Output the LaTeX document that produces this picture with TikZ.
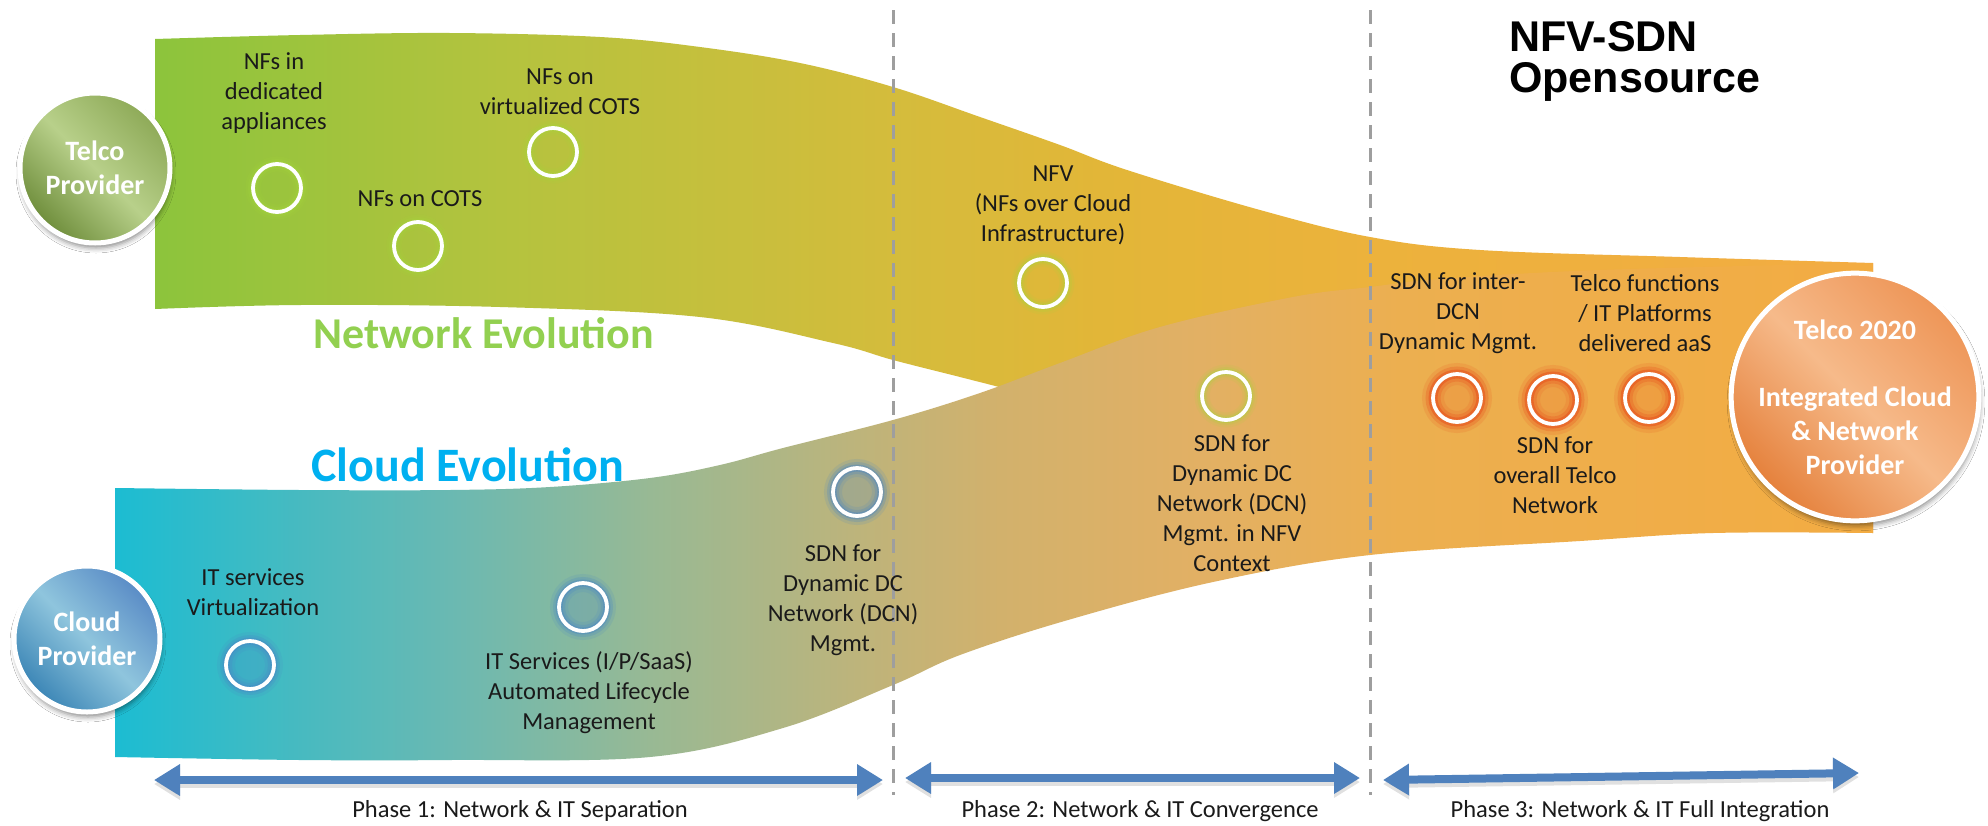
\documentclass[tikz,border=0pt]{standalone}
\usepackage{fontspec}
\setmainfont{Carlito}
\newfontfamily\headfont{Liberation Sans}
\usetikzlibrary{arrows.meta,shadows.blur}

% palette
\definecolor{txt}{HTML}{1A1A1A}
\definecolor{netA}{HTML}{8CC43C}
\definecolor{netB}{HTML}{B4C33E}
\definecolor{netC}{HTML}{D4BC3C}
\definecolor{netD}{HTML}{E2B638}
\definecolor{netE}{HTML}{ECB23C}
\definecolor{netF}{HTML}{F3AC42}
\definecolor{cldA}{HTML}{1CBCD2}
\definecolor{cldB}{HTML}{6AB9B2}
\definecolor{cldC}{HTML}{98B994}
\definecolor{cldD}{HTML}{BCB47C}
\definecolor{cldE}{HTML}{D2B16C}
\definecolor{cldF}{HTML}{E2B064}
\definecolor{cldG}{HTML}{ECAF50}
\definecolor{cldH}{HTML}{F3AC42}
\definecolor{netgreen}{HTML}{92D050}
\definecolor{cldblue}{HTML}{00B0F0}
\definecolor{glowg}{HTML}{A6D63C}
\definecolor{glowb}{HTML}{4A86C5}
\definecolor{glowo}{HTML}{E8501E}
\definecolor{arrowblue}{HTML}{4F81BD}
\definecolor{sepgray}{HTML}{9E9E9E}
\definecolor{telTop}{HTML}{8EAA58}
\definecolor{telMid}{HTML}{B8D08A}
\definecolor{telBot}{HTML}{6F8E3C}
\definecolor{cloTop}{HTML}{5A8CC6}
\definecolor{cloMid}{HTML}{8FC5DD}
\definecolor{cloBot}{HTML}{3C86B6}
\definecolor{orTop}{HTML}{EE9658}
\definecolor{orMid}{HTML}{F6BA8A}
\definecolor{orBot}{HTML}{E5813C}

% band fills (the path box spans 25bp..75bp)
\pgfdeclarehorizontalshading{netshade}{100bp}{color(0bp)=(netA); color(25bp)=(netA); color(35.04bp)=(netB); color(46.48bp)=(netC); color(52.5bp)=(netD); color(60.36bp)=(netE); color(75bp)=(netF); color(100bp)=(netF)}
\pgfdeclarehorizontalshading{cldshade}{100bp}{color(0bp)=(cldA); color(25bp)=(cldA); color(34.53bp)=(cldB); color(40.22bp)=(cldC); color(45.9bp)=(cldD); color(50.17bp)=(cldE); color(55.86bp)=(cldF); color(61.55bp)=(cldG); color(75bp)=(cldH); color(100bp)=(cldH)}

\begin{document}
\begin{tikzpicture}[x=1pt,y=-1pt,
  lbl/.style={font=\fontsize{24.5pt}{30pt}\selectfont, text=txt, align=center, inner sep=0pt},
  bandtitle/.style={font=\bfseries\fontsize{44pt}{50pt}\selectfont, inner sep=0pt},
  provider/.style={circle, inner sep=0pt, draw=white, line width=5pt, text=white, align=center,
    font=\bfseries\fontsize{28pt}{34pt}\selectfont,
    blur shadow={shadow xshift=1pt, shadow yshift=-5pt, shadow blur radius=5pt, shadow opacity=45}},
  ring/.style={circle, inner sep=0pt, minimum size=48pt, draw=white, line width=3.8pt},
  glowG/.style={preaction={draw=glowg, line width=15pt, opacity=0.12},
                preaction={draw=glowg, line width=10pt, opacity=0.2},
                preaction={draw=glowg, line width=6pt, opacity=0.35}},
  glowB/.style={preaction={fill=glowb, opacity=0.22},
                preaction={draw=glowb, line width=18pt, opacity=0.15},
                preaction={draw=glowb, line width=12pt, opacity=0.25},
                preaction={draw=glowb, line width=7pt, opacity=0.4}},
  glowO/.style={preaction={fill=glowo, opacity=0.15},
                preaction={draw=glowo, line width=22pt, opacity=0.15},
                preaction={draw=glowo, line width=15pt, opacity=0.28},
                preaction={draw=glowo, line width=9pt, opacity=0.5}},
  sep/.style={draw=sepgray, line width=3pt, dash pattern=on 14pt off 9pt},
  phase/.style={draw=arrowblue, line width=8pt,
    arrows={Triangle[length=26pt,width=30pt]-Triangle[length=26pt,width=30pt]}},
  phaseshadow/.style={draw=black, opacity=0.12, line width=8pt,
    arrows={Triangle[length=26pt,width=30pt]-Triangle[length=26pt,width=30pt]}},
  phaselbl/.style={font=\fontsize{24.5pt}{30pt}\selectfont, text=txt, inner sep=0pt}
]
\useasboundingbox (0,0) rectangle (1988,825);
\fill[white] (0,0) rectangle (1988,825);

% network evolution band
\shade[shading=netshade]
  plot[smooth,tension=0.6] coordinates {(155,39) (300,35) (450,33) (600,37) (700,47) (800,63) (893,87) (980,117) (1060,145) (1127,170) (1260,210) (1370,237) (1480,250) (1680,257) (1873,263)}
  -- plot[smooth,tension=0.6] coordinates {(1873,533) (1600,520) (1400,490) (1200,450) (1080,412) (1017,392) (960,377) (893,360) (833,343) (700,317) (500,307) (300,305) (155,309)}
  -- cycle;

% cloud evolution band
\shade[shading=cldshade]
  plot[smooth,tension=0.6] coordinates {(115,488) (300,490) (450,490) (550,487) (650,478) (720,465) (783,448) (893,420) (980,393) (1060,363) (1160,327) (1293,297) (1370,287) (1440,279) (1600,270) (1873,263)}
  -- plot[smooth,tension=0.6] coordinates {(1873,533) (1713,533) (1580,541) (1370,555) (1213,582) (1068,620) (960,655) (893,685) (783,728) (650,757) (450,760) (300,760) (115,757)}
  -- cycle;

% phase separators
\coordinate (s1t) at (893,10);  \coordinate (s1b) at (893,795);
\coordinate (s2t) at (1370,10); \coordinate (s2b) at (1370,795);
\draw[sep] (s1t) -- (s1b);
\draw[sep] (s2t) -- (s2b);

% band titles
\node[bandtitle, text=netgreen, anchor=west] (nettitle) at (313,333) {Network Evolution};
\node[bandtitle, font=\bfseries\fontsize{48pt}{54pt}\selectfont, text=cldblue, anchor=west] (cldtitle) at (311,465) {Cloud Evolution};

% heading
\node[font=\headfont\bfseries\fontsize{43pt}{41pt}\selectfont, align=left, anchor=west, inner sep=0pt]
  (head) at (1509,61) {NFV-SDN\\Opensource};

% providers
\node[provider, minimum size=150pt, top color=telTop, bottom color=telBot, middle color=telMid, shading angle=-45]
  (telco) at (95,168) {Telco\\Provider};
\node[provider, minimum size=146pt, top color=cloTop, bottom color=cloBot, middle color=cloMid, shading angle=-45]
  (cloud) at (87,639) {Cloud\\Provider};
\node[provider, minimum size=244pt, top color=orTop, bottom color=orBot, middle color=orMid, shading angle=-45]
  (telco2020) at (1855,397) {Telco 2020\\[33pt]Integrated Cloud\\\& Network\\Provider};

% milestones
\node[ring, glowG] (m1)  at (277,188)  {};
\node[ring, glowG] (m2)  at (418,246)  {};
\node[ring, glowG] (m3)  at (553,152)  {};
\node[ring, glowG] (m4)  at (1043,283) {};
\node[ring, glowB] (m5)  at (250,665)  {};
\node[ring, glowB] (m6)  at (583,607)  {};
\node[ring, glowB] (m7)  at (857,492)  {};
\node[ring, glowG] (m8)  at (1226,396) {};
\node[ring, glowO] (m9)  at (1457,398) {};
\node[ring, glowO] (m10) at (1553,400) {};
\node[ring, glowO] (m11) at (1649,398) {};

% milestone texts
\node[lbl] (t1)  at (274,93)   {NFs in\\dedicated\\appliances};
\node[lbl] (t2)  at (420,199)  {NFs on COTS};
\node[lbl] (t3)  at (560,92)   {NFs on\\virtualized COTS};
\node[lbl] (t4)  at (1053,205) {NFV\\(NFs over Cloud\\Infrastructure)};
\node[lbl] (t5)  at (253,592)  {IT services\\Virtualization};
\node[lbl] (t6)  at (589,693)  {IT Services (I/P/SaaS)\\Automated Lifecycle\\Management};
\node[lbl] (t7)  at (843,600)  {SDN for\\Dynamic DC\\Network (DCN)\\Mgmt.};
\node[lbl] (t8)  at (1232,503) {SDN for\\Dynamic DC\\Network (DCN)\\Mgmt. in NFV\\Context};
\node[lbl] (t9)  at (1458,313) {SDN for inter-\\DCN\\Dynamic Mgmt.};
\node[lbl] (t10) at (1555,475) {SDN for\\overall Telco\\Network};
\node[lbl] (t11) at (1645,313) {Telco functions\\/ IT Platforms\\delivered aaS};

% phase arrows
\coordinate (p1a) at (154,780);  \coordinate (p1b) at (883,780);
\coordinate (p2a) at (905,778);  \coordinate (p2b) at (1360,778);
\coordinate (p3a) at (1383,780); \coordinate (p3b) at (1859,773);
\draw[phaseshadow] ([yshift=-4pt]p1a) -- ([yshift=-4pt]p1b);
\draw[phaseshadow] ([yshift=-4pt]p2a) -- ([yshift=-4pt]p2b);
\draw[phaseshadow] ([yshift=-4pt]p3a) -- ([yshift=-4pt]p3b);
\draw[phase] (p1a) -- (p1b);
\draw[phase] (p2a) -- (p2b);
\draw[phase] (p3a) -- (p3b);

\node[phaselbl] (ph1) at (520,811)  {Phase 1: Network \& IT Separation};
\node[phaselbl] (ph2) at (1140,811) {Phase 2: Network \& IT Convergence};
\node[phaselbl] (ph3) at (1640,811) {Phase 3: Network \& IT Full Integration};
\end{tikzpicture}
\end{document}
